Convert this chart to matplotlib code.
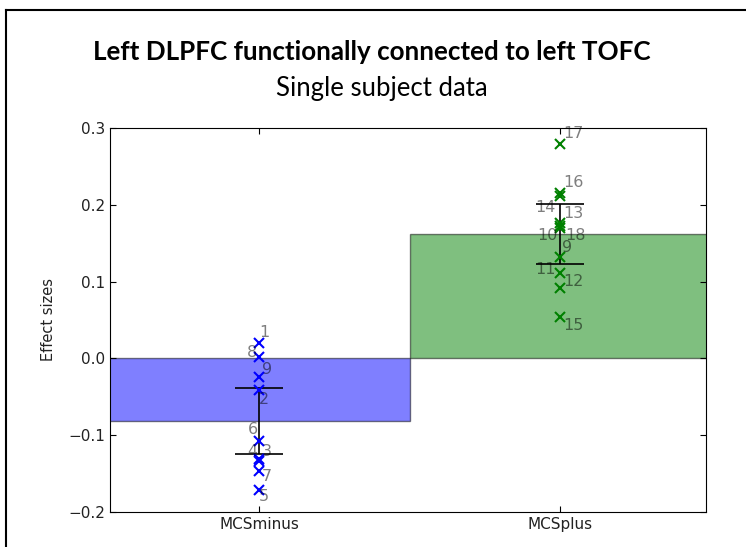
import matplotlib
matplotlib.use('Agg')
import matplotlib.pyplot as plt
from matplotlib.lines import Line2D

# данные
groups = ['MCSminus', 'MCSplus']
bar_means = [-0.0815, 0.162]
bar_errs = [0.043, 0.039]

minus_ids = ['1', '8', '9', '2', '6', '4', '3', '7', '5']
minus_vals = [0.0204, 0.0022, -0.0246, -0.041, -0.108, -0.131, -0.134, -0.147, -0.171]

plus_ids = ['17', '16', '14', '13', '10', '18', '9', '11', '12', '15']
plus_vals = [0.279, 0.215, 0.211, 0.176, 0.172, 0.170, 0.1316, 0.1116, 0.092, 0.0535]

# смещения подписей (пиксели, y вниз как на картинке)
minus_offs = [(5, -10), (-7, -4), (8, -8), (5, 10), (-6, -12), (-7, -8), (8, -10), (8, 5), (5, 7)]
plus_offs = [(13, -11), (13, -11), (-15, 11), (13, -10), (-13, 9), (15, 8), (7, -10), (-15, -3), (13, -6), (13, 8)]

fig = plt.figure(figsize=(7.46, 5.47), dpi=100)
ax = fig.add_axes([0.1475, 0.064, 0.799, 0.702])

colors = ['b', 'g']
for i in range(2):
    ax.bar(i, bar_means[i], width=1.0, color=colors[i], alpha=0.5,
           edgecolor='k', linewidth=1)
    ax.errorbar(i, bar_means[i], yerr=bar_errs[i], color='k', capsize=17,
                elinewidth=1.2, capthick=1.2, fmt='none')

for i, (vals, ids, offs) in enumerate([(minus_vals, minus_ids, minus_offs),
                                       (plus_vals, plus_ids, plus_offs)]):
    ax.plot([i] * len(vals), vals, 'x', color=colors[i], markersize=7, mew=1.5)
    for v, lab, off in zip(vals, ids, offs):
        ax.annotate(lab, (i, v), xytext=(off[0], -off[1]), textcoords='offset pixels',
                    ha='center', va='center', color='k', alpha=0.5, fontsize=11.5)

ax.set_xlim(-0.495, 1.485)
ax.set_ylim(-0.2, 0.3)
ax.set_yticks([-0.2, -0.1, 0.0, 0.1, 0.2, 0.3])
ax.set_xticks([0, 1])
ax.set_xticklabels(groups)
ax.tick_params(direction='in', top=True, right=True, length=4, labelsize=11,
               labelcolor='#222222')
ax.set_ylabel('Effect sizes', fontsize=10.5, labelpad=9, color='#222222')

fig.text(0.4987, 0.905, 'Left DLPFC functionally connected to left TOFC',
         ha='center', va='center', fontsize=18.7, fontweight='bold', family='Lato')
fig.text(0.512, 0.838, 'Single subject data', ha='center', va='center',
         fontsize=18.5, family='Lato')

# рамка слайда
fig.add_artist(Line2D([0.008, 0.008], [0, 0.982], transform=fig.transFigure, color='k', lw=1.5))
fig.add_artist(Line2D([0.008, 1.0], [0.982, 0.982], transform=fig.transFigure, color='k', lw=1.5))

plt.savefig('out.png', dpi=100)
